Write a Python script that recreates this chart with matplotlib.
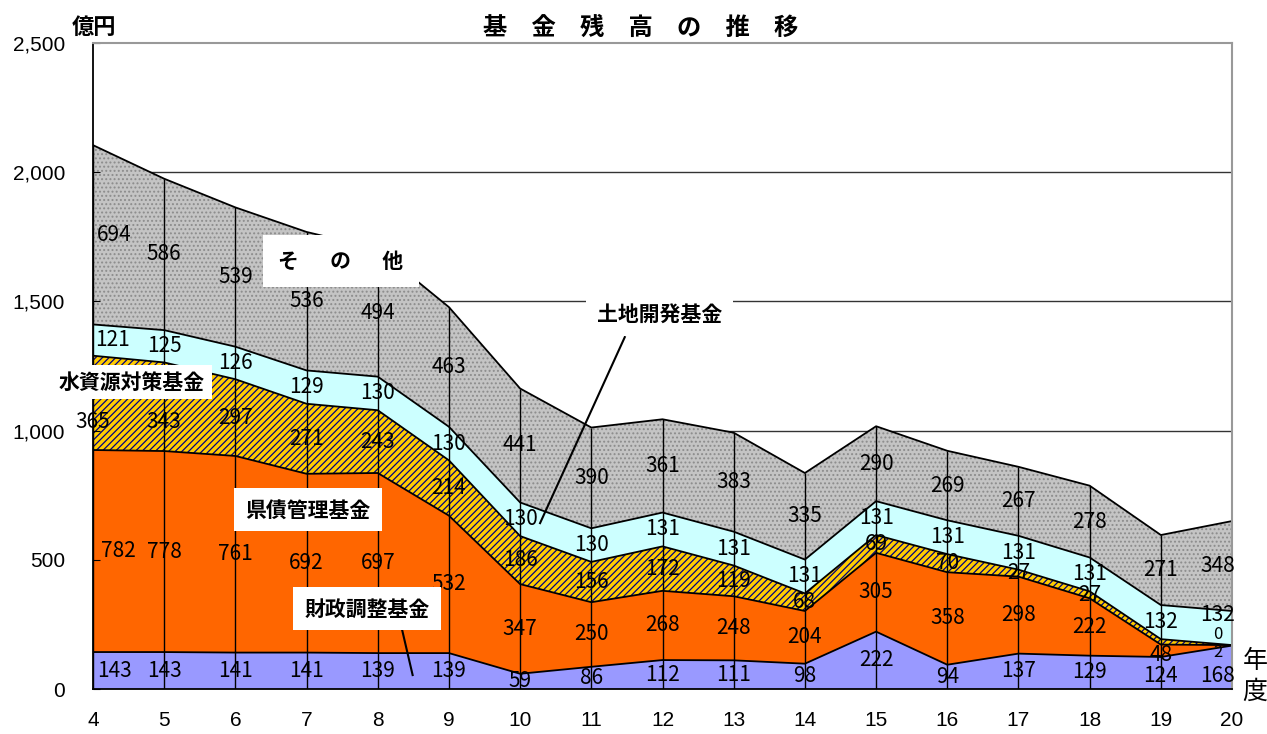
import numpy as np
import matplotlib.pyplot as plt

plt.rcParams['font.family'] = ['Noto Sans CJK JP', 'DejaVu Sans']
plt.rcParams['hatch.linewidth'] = 0.9

# 年度（平成）
years = np.arange(4, 21)

# 各基金の残高（億円）
zaisei = [143, 143, 141, 141, 139, 139, 59, 86, 112, 111, 98, 222, 94, 137, 129, 124, 168]
kensai = [782, 778, 761, 692, 697, 532, 347, 250, 268, 248, 204, 305, 358, 298, 222, 48, 2]
mizu = [365, 343, 297, 271, 243, 214, 186, 156, 172, 119, 68, 69, 70, 27, 27, 21, 0]
tochi = [121, 125, 126, 129, 130, 130, 130, 130, 131, 131, 131, 131, 131, 131, 131, 132, 132]
sonota = [694, 586, 539, 536, 494, 463, 441, 390, 361, 383, 335, 290, 269, 267, 278, 271, 348]

layers = [zaisei, kensai, mizu, tochi, sonota]

fig = plt.figure(figsize=(12.67, 7.34), dpi=100)
ax = fig.add_axes([0.0734, 0.0613, 0.899, 0.880])

# 横の目盛線（面の後ろ）
for yv in [1000, 1500, 2000]:
    ax.axhline(yv, color='#333333', lw=1, zorder=0)

# 積み上げ面
styles = [
    dict(facecolor='#9999FF'),
    dict(facecolor='#FF6600'),
    dict(facecolor='#FFCC00', hatch='/////', edgecolor='#000080'),
    dict(facecolor='#CCFFFF'),
    dict(facecolor='#C4C4C4', hatch='....', edgecolor='#8C8C8C'),
]
bottom = np.zeros(len(years))
bounds = [bottom.copy()]
for vals, st in zip(layers, styles):
    top = bottom + np.array(vals)
    ax.fill_between(years, bottom, top, lw=0, zorder=1, **st)
    ax.plot(years, top, color='black', lw=1.3, zorder=2)
    bounds.append(top.copy())
    bottom = top

# 年度ごとの縦線
ax.vlines(years, 0, bounds[-1], colors='black', lw=1, zorder=2)

# 数値ラベル（位置の微調整）
y_off = {(2, 0): -75, (2, 1): -60,
         (0, 15): -12, (1, 15): -16,
         (0, 16): -32, (1, 16): -27, (2, 16): 42, (3, 16): 52}
x_off = {(0, 0): 0.3, (1, 0): 0.35, (2, 0): 0.0, (3, 0): 0.28, (4, 0): 0.3}
for k, vals in enumerate(layers):
    for i, v in enumerate(vals):
        if k == 2 and i == 15:
            continue
        x = years[i]
        if i == 0:
            x += x_off[(k, i)]
        elif i == len(years) - 1:
            x -= 0.2
        y = (bounds[k][i] + bounds[k + 1][i]) / 2 + y_off.get((k, i), 0)
        fs = 12 if (i == 16 and k in (1, 2)) else 15
        ax.text(x, y, str(v), ha='center', va='center', fontsize=fs, zorder=4)

box = dict(facecolor='white', edgecolor='none', pad=8)
ax.text(7.48, 1656, 'そ\u2003\u2002の\u2003\u2002他', ha='center', va='center', fontsize=15,
        fontweight='bold', bbox=dict(facecolor='white', edgecolor='none', pad=11), zorder=5)
ax.text(4.55, 1188, '水資源対策基金', ha='center', va='center', fontsize=15,
        fontweight='bold', bbox=dict(facecolor='white', edgecolor='none', pad=5), zorder=5)
ax.text(7.02, 693, '県債管理基金', ha='center', va='center', fontsize=15,
        fontweight='bold', bbox=box, zorder=5)
ax.text(7.85, 310, '財政調整基金', ha='center', va='center', fontsize=15,
        fontweight='bold', bbox=box, zorder=5)
ax.text(11.96, 1450, '土地開発基金', ha='center', va='center', fontsize=15,
        fontweight='bold', bbox=box, zorder=5)

# 引出線
ax.plot([11.47, 10.28], [1362, 642], color='black', lw=1.5, zorder=3)
ax.plot([8.31, 8.49], [267, 54], color='black', lw=1.5, zorder=3)

ax.set_xlim(4, 20)
ax.set_ylim(0, 2500)
ax.set_xticks(years)
ax.set_yticks([0, 500, 1000, 1500, 2000, 2500])
ax.set_yticklabels(['0', '500', '1,000', '1,500', '2,000', '2,500'])
ax.tick_params(axis='y', direction='in', length=5, labelsize=15, pad=20)
ax.tick_params(axis='x', length=0, labelsize=15, pad=16)
for lab in ax.get_xticklabels() + ax.get_yticklabels():
    lab.set_family(['Liberation Sans', 'DejaVu Sans'])

ax.spines['top'].set_color('#999999')
ax.spines['right'].set_color('#999999')
ax.spines['top'].set_linewidth(1.5)
ax.spines['right'].set_linewidth(1.5)
ax.spines['left'].set_linewidth(1.3)
ax.spines['bottom'].set_linewidth(1.3)

fig.text(0.506, 0.962, '基　金　残　高　の　推　移', ha='center', va='center',
         fontsize=17.5, fontweight='bold')
fig.text(0.074, 0.962, '億円', ha='center', va='center', fontsize=16, fontweight='bold')
fig.text(0.9905, 0.078, '年\n度', ha='center', va='center', fontsize=18, linespacing=1.25)

fig.savefig('out.png', dpi=100)
